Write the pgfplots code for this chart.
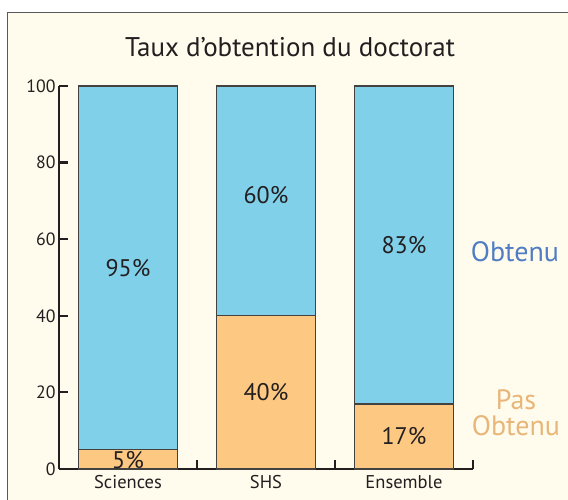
\documentclass[border=0pt]{standalone}
\usepackage{fontspec}
\setmainfont{PT Sans}
\usepackage{pgfplots}
\pgfplotsset{compat=1.18}
\definecolor{bgcream}{RGB}{255,252,238}
\definecolor{framegray}{RGB}{90,90,90}
\definecolor{axiscol}{RGB}{35,31,32}
\definecolor{barblue}{RGB}{128,208,234}
\definecolor{barorange}{RGB}{253,200,130}
\definecolor{bartext}{RGB}{35,31,32}
\definecolor{obtcol}{RGB}{80,125,195}
\definecolor{pascol}{RGB}{232,182,120}
\tikzset{blab/.style={font=\fontsize{24}{28}\selectfont, text=bartext, inner sep=0pt}}
\begin{document}
\begin{tikzpicture}
\useasboundingbox (0pt,0pt) rectangle (568pt,500pt);
\begin{scope}
\clip (0pt,0pt) rectangle (568pt,500pt);
\fill[white] (0pt,0pt) rectangle (568pt,500pt);
\draw[fill=bgcream, draw=framegray, line width=1.2pt] (7.5pt,487.5pt) rectangle (590pt,-20pt);
\end{scope}
\node[font=\fontsize{27}{32}\selectfont, text=axiscol] at (290pt,453pt) {Taux d’obtention du doctorat};
\begin{axis}[
  at={(59pt,31pt)}, anchor=south west, scale only axis,
  width=414pt, height=383pt,
  xmin=-0.5, xmax=2.5, ymin=0, ymax=100,
  ybar stacked, bar width=0.72,
  axis x line*=bottom, axis y line*=left,
  axis line style={line width=2.4pt, color=axiscol},
  tick align=inside,
  major tick length=9pt,
  tick style={line width=2.2pt, color=axiscol},
  xtick={0.5,1.5,2.5}, xticklabels={,,},
  extra x ticks={0,1,2},
  extra x tick labels={Sciences,SHS,Ensemble},
  extra x tick style={major tick length=0pt},
  ytick={0,20,40,60,80,100},
  /pgf/number format/assume math mode=true,
  yticklabel style={font=\fontsize{17.8}{20}\selectfont, text=axiscol},
  xticklabel style={font=\fontsize{18.5}{20}\selectfont, text=axiscol, yshift=-3pt},
  clip=false,
]
\addplot[fill=barorange, draw=axiscol!85, line width=1.3pt] coordinates {(0,5) (1,40) (2,17)};
\addplot[fill=barblue, draw=axiscol!85, line width=1.3pt] coordinates {(0,95) (1,60) (2,83)};
\coordinate (l1) at (axis cs:0,52.5);
\coordinate (l2) at (axis cs:0,2.3);
\coordinate (l3) at (axis cs:1,71.5);
\coordinate (l4) at (axis cs:1,20);
\coordinate (l5) at (axis cs:2,58.5);
\coordinate (l6) at (axis cs:2,8.5);
\end{axis}
\node[blab] at (l1) {95\%};
\node[blab] at (l2) {5\%};
\node[blab] at (l3) {60\%};
\node[blab] at (l4) {40\%};
\node[blab] at (l5) {83\%};
\node[blab] at (l6) {17\%};
\node[font=\fontsize{28}{32}\selectfont, text=obtcol] at (515pt,248pt) {Obtenu};
\node[font=\fontsize{28}{26}\selectfont, text=pascol, align=center] at (516pt,87pt) {Pas\\Obtenu};
\end{tikzpicture}
\end{document}
